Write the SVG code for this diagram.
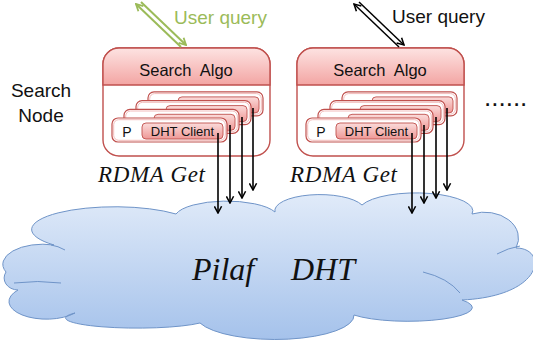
<svg xmlns="http://www.w3.org/2000/svg" width="533" height="343" viewBox="0 0 533 343">
  <style>
    .label { font-family: "Liberation Sans", Arial, sans-serif; fill: #111; }
    .script { font-family: "Liberation Serif", "Times New Roman", serif; font-style: italic; fill: #111; }
    .frame { fill: #fff; stroke: #c0504d; stroke-width: 1.4; }
    .card { fill: #fff; stroke: #c0504d; stroke-width: 1.2; }
    .card-inner { fill: none; stroke: #f2bcbb; stroke-width: 1; }
    .client { fill: url(#clientFill); stroke: #c0504d; stroke-width: 0.9; }
    .get { fill: none; stroke: #000; stroke-width: 1.6; marker-end: url(#headBlack); }
    .query-black { fill: none; stroke: #000; stroke-width: 1.5; marker-end: url(#headBlack); }
    .query-green { fill: none; stroke: #9bbb59; stroke-width: 2; marker-end: url(#headGreen); }
    .cloud-line { fill: none; stroke: #6f94c8; stroke-width: 1; }
  </style>
  <defs>
    <linearGradient id="headerFill" x1="0" y1="0" x2="0" y2="1">
      <stop offset="0" stop-color="#fde3e2"/>
      <stop offset="1" stop-color="#f3a5a3"/>
    </linearGradient>
    <linearGradient id="clientFill" x1="0" y1="0" x2="0" y2="1">
      <stop offset="0" stop-color="#fbdcdb"/>
      <stop offset="1" stop-color="#ee9896"/>
    </linearGradient>
    <linearGradient id="cloudFill" x1="0" y1="0" x2="0" y2="1">
      <stop offset="0" stop-color="#e1ebf9"/>
      <stop offset="1" stop-color="#a5c2eb"/>
    </linearGradient>
    <marker id="headBlack" viewBox="0 0 10 10" refX="9" refY="5" markerWidth="9" markerHeight="9" markerUnits="userSpaceOnUse" orient="auto">
      <path d="M1.5,1 L9,5 L1.5,9" fill="none" stroke="#000" stroke-width="1.7"/>
    </marker>
    <marker id="headGreen" viewBox="0 0 10 10" refX="9" refY="5" markerWidth="9" markerHeight="9" markerUnits="userSpaceOnUse" orient="auto">
      <path d="M1.5,1 L9,5 L1.5,9" fill="none" stroke="#9bbb59" stroke-width="2"/>
    </marker>
    <!-- one search node: header, frame, and four stacked client cards -->
    <g id="node-template">
      <rect class="frame" x="103" y="48" width="167" height="108" rx="16"/>
      <path d="M103,85 V64 A16,16 0 0 1 119,48 H254 A16,16 0 0 1 270,64 V85 Z" fill="url(#headerFill)" stroke="#c0504d" stroke-width="1.4"/>
      <text class="label" x="186" y="76" font-size="16.5" text-anchor="middle" style="white-space:pre">Search  Algo</text>
      <g>
        <rect class="card" x="148" y="91.9" width="115" height="24" rx="6"/>
        <rect class="card-inner" x="149.7" y="93.6" width="111.6" height="20.6" rx="5"/>
        <rect class="client" x="178" y="96.9" width="81" height="16" rx="4"/>
      </g>
      <g>
        <rect class="card" x="136" y="100.6" width="115" height="24" rx="6"/>
        <rect class="card-inner" x="137.7" y="102.3" width="111.6" height="20.6" rx="5"/>
        <rect class="client" x="166" y="105.6" width="81" height="16" rx="4"/>
      </g>
      <g>
        <rect class="card" x="124" y="109.3" width="115" height="24" rx="6"/>
        <rect class="card-inner" x="125.7" y="111" width="111.6" height="20.6" rx="5"/>
        <rect class="client" x="154" y="114.3" width="81" height="16" rx="4"/>
      </g>
      <g>
        <rect class="card" x="112" y="118" width="115" height="24" rx="6"/>
        <rect class="card-inner" x="113.7" y="119.7" width="111.6" height="20.6" rx="5"/>
        <rect class="client" x="142" y="123" width="81" height="16" rx="4"/>
        <text class="label" x="127" y="137" font-size="14" text-anchor="middle">P</text>
        <text class="label" x="182.5" y="136" font-size="13" text-anchor="middle">DHT Client</text>
      </g>
    </g>
  </defs>

  <!-- shared hash table -->
  <g id="pilaf-dht">
    <path d="M6,272 A40,20 0 0 1 54,245 A66,18 0 0 1 176,214 A52,17 0 0 1 275,212 A45,16 0 0 1 362,205 A57,18 0 0 1 472,214 A34,26 0 0 1 516,248 C548,248 545,296 462,300 A56,12 0 0 1 354,315 A79,24 0 0 1 200,323 A64,9 0 0 1 75,313 A34,16 0 0 1 18,290 A14,12 0 0 1 6,272 Z" fill="url(#cloudFill)" stroke="#6f94c8" stroke-width="1"/>
    <path class="cloud-line" d="M51,245 Q58,246 65,250"/>
    <path class="cloud-line" d="M14,283 Q38,280 61,283"/>
    <path class="cloud-line" d="M423,272 Q448,278 460,293"/>
    <path class="cloud-line" d="M497,254 Q508,248 520,246"/>
    <text class="script" font-size="32"><tspan x="192" y="280">Pilaf</tspan><tspan x="291" y="280">DHT</tspan></text>
  </g>

  <g id="search-node-1">
    <use href="#node-template"/>
  </g>
  <g id="search-node-2" transform="translate(194,0)">
    <use href="#node-template"/>
  </g>

  <g id="labels">
    <text class="label" x="41" y="97" font-size="19" text-anchor="middle">Search</text>
    <text class="label" x="41" y="122" font-size="19" text-anchor="middle">Node</text>
    <text class="label" x="174" y="24" font-size="19" style="fill:#9bbb59">User query</text>
    <text class="label" x="392" y="23" font-size="19">User query</text>
    <text class="label" x="484" y="106" font-size="26">......</text>
    <text class="script" x="98" y="182" font-size="23" textLength="107">RDMA Get</text>
    <text class="script" x="290" y="182" font-size="23" textLength="107">RDMA Get</text>
  </g>

  <g id="connectors">
    <!-- user query, node 1 -->
    <line class="query-green" x1="181" y1="47" x2="136" y2="4"/>
    <line class="query-green" x1="141" y1="2" x2="186" y2="45"/>
    <!-- user query, node 2 -->
    <line class="query-black" x1="399" y1="47" x2="354" y2="4"/>
    <line class="query-black" x1="359" y1="2" x2="404" y2="45"/>
    <!-- RDMA gets, node 1 -->
    <line class="get" x1="218" y1="133" x2="218" y2="213"/>
    <line class="get" x1="230" y1="125" x2="230" y2="203"/>
    <line class="get" x1="242" y1="117" x2="242" y2="198"/>
    <line class="get" x1="253" y1="108" x2="253" y2="190"/>
    <!-- RDMA gets, node 2 -->
    <line class="get" x1="412" y1="133" x2="412" y2="213"/>
    <line class="get" x1="424" y1="125" x2="424" y2="203"/>
    <line class="get" x1="436" y1="117" x2="436" y2="198"/>
    <line class="get" x1="447" y1="108" x2="447" y2="190"/>
  </g>
</svg>
